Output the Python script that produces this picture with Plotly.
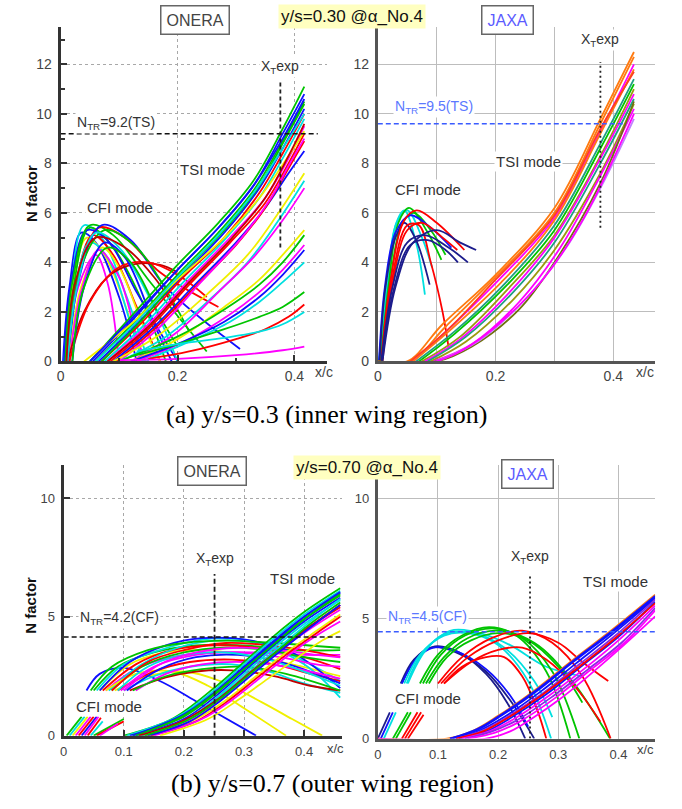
import plotly.graph_objects as go

W, H = 682, 809

# ---------------- colours (style) ----------------
COL = {
    "R": "#ff0000", "G": "#00c400", "B": "#1010ff", "M": "#ff00ff", "C": "#00e0e0",
    "Y": "#f0f000", "D": "#c00000", "N": "#1c1c8c", "O": "#ff7a10", "T": "#1f9f80",
    "L": "#9a9a10", "V": "#c080ff", "P": "#8a2be2", "K": "#707010", "E": "#ff4020",
}

# ================= DATA =================
# ---- (a) y/s=0.30, ONERA ----
A1_CFI = [
    [(0.004, 0), (0.015, 3.0), (0.035, 5.2), (0.06, 4.8), (0.10, 2.6), (0.13, 0)],
    [(0.006, 0), (0.018, 3.0), (0.04, 5.5), (0.07, 5.0), (0.11, 2.8), (0.15, 0)],
    [(0.008, 0), (0.02, 3.0), (0.045, 5.0), (0.075, 4.3), (0.12, 1.6), (0.14, 0)],
    [(0.01, 0), (0.022, 3.0), (0.05, 5.4), (0.09, 4.6), (0.14, 2.4), (0.18, 0)],
    [(0.01, 0), (0.025, 3.0), (0.055, 5.1), (0.09, 4.3), (0.13, 2.2), (0.17, 0)],
    [(0.012, 0), (0.03, 3.0), (0.06, 4.3), (0.08, 3.2), (0.1, 0)],
    [(0.006, 0), (0.02, 3.5), (0.045, 5.3), (0.08, 4.9), (0.13, 2.8), (0.2, 0)],
    [(0.008, 0), (0.02, 3.2), (0.05, 5.5), (0.09, 5.1), (0.15, 3.3), (0.25, 0.4)],
    [(0.01, 0), (0.025, 3.0), (0.05, 4.8), (0.08, 4.2), (0.12, 1.5), (0.14, 0)],
    [(0.012, 0), (0.03, 3.4), (0.065, 5.4), (0.11, 5.0), (0.17, 3.6), (0.27, 2.2)],
    [(0.015, 0), (0.03, 3.2), (0.07, 5.5), (0.12, 4.9), (0.18, 3.0), (0.307, 0.5)],
    [(0.015, 0), (0.035, 3.0), (0.07, 4.6), (0.1, 3.8), (0.14, 1.5), (0.17, 0)],
    [(0.015, 0), (0.035, 2.8), (0.065, 4.5), (0.1, 3.4), (0.13, 1.0), (0.145, 0)],
    [(0.01, 0), (0.03, 3.5), (0.075, 5.3), (0.13, 4.6), (0.19, 2.5), (0.22, 1.2)],
    [(0.012, 0), (0.04, 2.0), (0.08, 3.4), (0.12, 3.9), (0.17, 3.9), (0.2, 3.6)],
    [(0.015, 0), (0.05, 2.4), (0.1, 3.8), (0.15, 4.0), (0.2, 3.5), (0.25, 2.6)],
    [(0.012, 0), (0.028, 3.0), (0.06, 5.2), (0.1, 4.6), (0.16, 2.2), (0.2, 0)],
    [(0.01, 0), (0.025, 3.2), (0.06, 5.0), (0.11, 4.6), (0.16, 3.4), (0.2, 2.0)],
    [(0.02, 0), (0.04, 3.0), (0.075, 4.8), (0.11, 4.2), (0.16, 1.5), (0.19, 0)],
    [(0.02, 0), (0.04, 3.0), (0.08, 4.6), (0.12, 4.0), (0.17, 1.8), (0.2, 0.6)],
]
A1_CFI_C = "BCYGRMBGCRBYMGDRCDBG"

A1_TSI = [
    [(0.05, 0), (0.12, 1.8), (0.2, 3.9), (0.27, 5.6), (0.33, 7.3), (0.38, 9.4), (0.417, 11.1)],
    [(0.055, 0), (0.12, 1.6), (0.2, 3.7), (0.27, 5.4), (0.33, 7.1), (0.38, 9.2), (0.417, 10.8)],
    [(0.06, 0), (0.13, 1.7), (0.2, 3.5), (0.27, 5.2), (0.33, 6.9), (0.38, 8.9), (0.417, 10.5)],
    [(0.065, 0), (0.13, 1.5), (0.21, 3.5), (0.28, 5.2), (0.34, 7.0), (0.38, 8.6), (0.417, 10.2)],
    [(0.07, 0), (0.14, 1.6), (0.21, 3.4), (0.28, 5.0), (0.34, 6.8), (0.38, 8.4), (0.417, 10.0)],
    [(0.075, 0), (0.14, 1.4), (0.21, 3.2), (0.28, 4.9), (0.34, 6.6), (0.38, 8.2), (0.417, 9.8)],
    [(0.08, 0), (0.15, 1.5), (0.22, 3.3), (0.29, 5.0), (0.35, 6.6), (0.39, 8.2), (0.417, 9.5)],
    [(0.085, 0), (0.15, 1.3), (0.22, 3.1), (0.29, 4.8), (0.35, 6.4), (0.39, 8.0), (0.417, 9.2)],
    [(0.07, 0), (0.14, 1.7), (0.21, 3.6), (0.28, 5.3), (0.34, 7.1), (0.38, 8.8), (0.417, 10.4)],
    [(0.04, 0), (0.12, 1.5), (0.2, 3.3), (0.28, 5.0), (0.34, 6.6), (0.39, 8.3), (0.417, 9.3)],
    [(0.09, 0), (0.16, 1.4), (0.23, 3.1), (0.3, 4.8), (0.35, 6.2), (0.39, 7.6), (0.417, 8.5)],
    [(0.095, 0), (0.16, 1.3), (0.23, 3.0), (0.3, 4.7), (0.35, 6.2), (0.39, 7.8), (0.417, 8.9)],
    [(0.1, 0), (0.17, 1.4), (0.24, 3.2), (0.31, 5.0), (0.36, 6.6), (0.39, 7.9), (0.417, 9.0)],
    [(0.06, 0), (0.13, 1.6), (0.2, 3.4), (0.27, 5.1), (0.33, 6.8), (0.38, 8.6), (0.417, 10.0)],
    [(0.08, 0), (0.15, 1.4), (0.22, 3.2), (0.29, 4.9), (0.35, 6.6), (0.39, 8.3), (0.417, 9.6)],
    [(0.05, 0), (0.12, 1.7), (0.2, 3.7), (0.27, 5.4), (0.33, 7.1), (0.38, 9.0), (0.417, 10.6)],
    [(0.1, 0), (0.18, 1.0), (0.26, 2.6), (0.32, 4.0), (0.37, 5.6), (0.417, 7.3)],
    [(0.09, 0), (0.17, 1.1), (0.25, 2.7), (0.32, 4.3), (0.37, 5.9), (0.417, 7.6)],
    [(0.12, 0), (0.2, 1.2), (0.27, 2.8), (0.33, 4.2), (0.38, 5.7), (0.417, 7.0)],
    [(0.12, 0), (0.2, 0.9), (0.28, 2.2), (0.34, 3.3), (0.38, 4.3), (0.417, 5.3)],
    [(0.1, 0), (0.2, 1.0), (0.28, 2.1), (0.34, 3.1), (0.38, 4.0), (0.417, 5.1)],
    [(0.13, 0), (0.22, 0.9), (0.29, 1.9), (0.34, 2.8), (0.38, 3.7), (0.417, 4.7)],
    [(0.12, 0), (0.21, 0.8), (0.28, 1.6), (0.34, 2.6), (0.38, 3.5), (0.417, 4.5)],
    [(0.14, 0), (0.22, 0.8), (0.29, 1.6), (0.34, 2.4), (0.38, 3.2), (0.417, 4.0)],
    [(0.12, 0.2), (0.2, 0.7), (0.28, 1.3), (0.34, 1.8), (0.38, 2.2), (0.417, 2.8)],
    [(0.15, 0.1), (0.22, 0.4), (0.3, 0.9), (0.35, 1.3), (0.39, 1.8), (0.417, 2.3)],
    [(0.13, 0.4), (0.2, 0.7), (0.28, 0.95), (0.34, 1.2), (0.38, 1.5), (0.417, 2.0)],
    [(0.1, 0.05), (0.2, 0.1), (0.3, 0.25), (0.38, 0.45), (0.417, 0.6)],
]
A1_TSI_C = "GBGBRCMRGYBRMCDBCYMYGMBCGRCM"

# ---- (a) y/s=0.30, JAXA ----
A2_CFI = [
    [(0.002, 0), (0.015, 3.0), (0.03, 5.5), (0.045, 6.1), (0.065, 4.8), (0.08, 2.7)],
    [(0.003, 0), (0.016, 3.0), (0.032, 5.6), (0.05, 6.1), (0.075, 5.0), (0.092, 3.8)],
    [(0.005, 0), (0.018, 3.0), (0.035, 5.6), (0.053, 6.2), (0.085, 5.2), (0.108, 4.1)],
    [(0.006, 0), (0.02, 3.0), (0.04, 5.5), (0.06, 6.0), (0.09, 5.3), (0.115, 4.3)],
    [(0.002, 0), (0.012, 3.0), (0.03, 5.2), (0.055, 5.9), (0.09, 5.4), (0.125, 4.6)],
    [(0.003, 0), (0.013, 3.0), (0.03, 5.0), (0.045, 5.6), (0.065, 4.9), (0.088, 3.1)],
    [(0.006, 0), (0.02, 3.0), (0.045, 5.7), (0.066, 6.1), (0.1, 5.6), (0.147, 4.5)],
    [(0.007, 0), (0.022, 3.0), (0.05, 5.5), (0.07, 5.5), (0.09, 4.0), (0.11, 2.0), (0.12, 0.6)],
    [(0.008, 0), (0.024, 3.0), (0.05, 5.3), (0.075, 5.6), (0.11, 5.0), (0.135, 4.5)],
    [(0.008, 0), (0.03, 3.0), (0.06, 4.8), (0.1, 5.3), (0.14, 4.8), (0.167, 4.5)],
    [(0.006, 0), (0.025, 3.0), (0.05, 4.8), (0.08, 5.1), (0.12, 4.6), (0.153, 4.0)],
    [(0.007, 0), (0.028, 3.0), (0.055, 4.7), (0.085, 4.9), (0.115, 4.5), (0.136, 4.0)],
]
A2_CFI_C = "CCGGBNRRRNNN"

A2_TSI = [
    [(0.0, 0), (0.05, 0), (0.11, 1.5), (0.2, 3.5), (0.3, 6.2), (0.378, 9.8), (0.435, 12.5)],
    [(0.0, 0), (0.055, 0), (0.115, 1.4), (0.2, 3.4), (0.3, 6.0), (0.378, 9.6), (0.435, 12.3)],
    [(0.06, 0), (0.12, 1.3), (0.21, 3.4), (0.3, 5.8), (0.378, 9.3), (0.435, 12.0)],
    [(0.06, 0), (0.12, 1.2), (0.21, 3.2), (0.3, 5.7), (0.378, 9.2), (0.435, 11.8)],
    [(0.065, 0), (0.13, 1.2), (0.21, 3.0), (0.3, 5.5), (0.378, 8.8), (0.435, 11.4)],
    [(0.07, 0), (0.13, 1.1), (0.22, 3.1), (0.3, 5.3), (0.378, 8.6), (0.435, 11.2)],
    [(0.075, 0), (0.14, 1.0), (0.22, 2.9), (0.3, 5.1), (0.378, 8.3), (0.435, 11.0)],
    [(0.08, 0), (0.14, 0.9), (0.22, 2.7), (0.3, 5.0), (0.378, 8.2), (0.435, 10.8)],
    [(0.085, 0), (0.15, 1.0), (0.23, 2.8), (0.3, 4.8), (0.378, 8.0), (0.435, 10.6)],
    [(0.09, 0), (0.15, 0.8), (0.23, 2.5), (0.3, 4.5), (0.378, 7.6), (0.435, 10.4)],
    [(0.095, 0), (0.16, 0.7), (0.24, 2.4), (0.31, 4.6), (0.378, 7.5), (0.435, 10.2)],
    [(0.0, 0), (0.1, 0), (0.16, 0.6), (0.24, 2.1), (0.3, 4.0), (0.378, 7.2), (0.435, 10.5)],
    [(0.1, 0), (0.17, 0.8), (0.25, 2.5), (0.32, 4.6), (0.378, 7.0), (0.435, 9.8)],
    [(0.055, 0), (0.12, 1.3), (0.2, 3.3), (0.3, 5.9), (0.378, 9.4), (0.435, 11.7)],
    [(0.1, 0), (0.14, 0.4), (0.2, 1.4), (0.28, 3.3), (0.35, 5.8), (0.435, 10.0)],
]
A2_TSI_C = "OOMOTGLMTLMKVEM"

# ---- (b) y/s=0.70, ONERA ----
B1_CFI_LOW = [
    [(0.005, 0), (0.03, 0.8)], [(0.01, 0), (0.035, 0.8)], [(0.015, 0), (0.04, 0.8)],
    [(0.02, 0), (0.045, 0.8)], [(0.025, 0), (0.05, 0.8)], [(0.03, 0), (0.055, 0.8)],
    [(0.035, 0), (0.058, 0.8)], [(0.04, 0), (0.062, 0.75)], [(0.045, 0), (0.065, 0.6)],
    [(0.05, 0), (0.1, 0.7)], [(0.055, 0), (0.1, 0.6)], [(0.06, 0), (0.09, 0.5)],
]
B1_CFI_LOW_C = "GCYMRBMRCGRM"

B1_CFI = [
    [(0.038, 1.9), (0.06, 2.6), (0.1, 2.85), (0.16, 2.3), (0.22, 1.45), (0.32, 0)],
    [(0.05, 1.9), (0.09, 2.9), (0.15, 3.5), (0.22, 3.8), (0.3, 3.8), (0.38, 3.6), (0.46, 3.6)],
    [(0.055, 1.9), (0.1, 3.0), (0.16, 3.6), (0.22, 4.0), (0.28, 4.1), (0.36, 3.6), (0.46, 2.3)],
    [(0.06, 1.9), (0.11, 3.0), (0.17, 3.5), (0.23, 3.6), (0.3, 3.4), (0.38, 3.0), (0.46, 2.5)],
    [(0.065, 1.9), (0.12, 3.0), (0.18, 3.6), (0.25, 3.8), (0.32, 3.7), (0.4, 3.3), (0.46, 2.8)],
    [(0.07, 1.9), (0.12, 2.8), (0.18, 3.3), (0.25, 3.5), (0.32, 3.5), (0.4, 3.4), (0.46, 3.4)],
    [(0.06, 1.9), (0.11, 3.1), (0.17, 3.8), (0.23, 4.1), (0.3, 4.05), (0.38, 3.5), (0.46, 2.0)],
    [(0.075, 1.9), (0.13, 3.0), (0.19, 3.7), (0.25, 4.0), (0.32, 3.9), (0.4, 3.0), (0.46, 1.6)],
    [(0.08, 1.9), (0.13, 2.9), (0.2, 3.5), (0.27, 3.7), (0.34, 3.6), (0.4, 3.3), (0.46, 3.1)],
    [(0.085, 1.9), (0.14, 2.5), (0.2, 2.7), (0.26, 2.3), (0.33, 1.4), (0.38, 0.7), (0.43, 0)],
    [(0.07, 1.9), (0.12, 2.6), (0.18, 2.7), (0.24, 2.1), (0.3, 1.15), (0.37, 0)],
    [(0.09, 1.9), (0.15, 2.7), (0.21, 3.1), (0.28, 3.2), (0.35, 3.0), (0.41, 2.6), (0.46, 2.3)],
    [(0.095, 1.9), (0.15, 2.9), (0.22, 3.4), (0.29, 3.5), (0.36, 3.3), (0.42, 3.0), (0.46, 2.9)],
    [(0.1, 1.9), (0.15, 2.5), (0.21, 2.9), (0.28, 3.0), (0.34, 2.7), (0.4, 2.2), (0.46, 1.8)],
    [(0.045, 1.9), (0.08, 2.9), (0.14, 3.6), (0.2, 3.9), (0.27, 4.0), (0.35, 3.9), (0.46, 3.7)],
    [(0.105, 1.9), (0.16, 2.8), (0.22, 3.3), (0.29, 3.4), (0.36, 3.1), (0.42, 2.6), (0.46, 2.2)],
    [(0.11, 1.9), (0.17, 2.45), (0.22, 2.7), (0.28, 2.75), (0.35, 2.5), (0.41, 2.1), (0.46, 1.9)],
    [(0.12, 1.9), (0.17, 2.6), (0.23, 3.0), (0.3, 3.1), (0.37, 2.9), (0.46, 2.4)],
    [(0.115, 1.9), (0.17, 2.5), (0.23, 2.8), (0.3, 2.9), (0.37, 2.6), (0.46, 1.9)],
    [(0.08, 1.9), (0.14, 3.1), (0.2, 3.6), (0.27, 3.9), (0.34, 3.8), (0.4, 3.6), (0.46, 3.3)],
    [(0.09, 1.9), (0.14, 2.9), (0.2, 3.4), (0.27, 3.5), (0.34, 3.2), (0.41, 2.6), (0.46, 2.1)],
    [(0.1, 1.9), (0.16, 3.0), (0.22, 3.5), (0.29, 3.7), (0.36, 3.6), (0.42, 3.4), (0.46, 3.3)],
]
B1_CFI_C = "BGCYRMBCGYYRMCGBDMGRCM"

B1_TSI = [
    [(0.10, 0), (0.18, 0.7), (0.25, 2.0), (0.3, 3.1), (0.35, 4.2), (0.4, 5.2), (0.46, 6.2)],
    [(0.105, 0), (0.19, 0.8), (0.25, 1.9), (0.3, 3.0), (0.35, 4.1), (0.4, 5.1), (0.46, 6.1)],
    [(0.11, 0), (0.19, 0.7), (0.25, 1.8), (0.3, 2.9), (0.35, 4.0), (0.4, 5.0), (0.46, 6.0)],
    [(0.115, 0), (0.2, 0.8), (0.25, 1.7), (0.3, 2.8), (0.35, 3.9), (0.4, 4.9), (0.46, 5.9)],
    [(0.12, 0), (0.2, 0.7), (0.25, 1.6), (0.3, 2.7), (0.35, 3.8), (0.4, 4.8), (0.46, 5.8)],
    [(0.125, 0), (0.2, 0.6), (0.25, 1.5), (0.3, 2.6), (0.35, 3.7), (0.4, 4.7), (0.46, 5.7)],
    [(0.13, 0), (0.21, 0.7), (0.26, 1.6), (0.31, 2.7), (0.36, 3.7), (0.41, 4.6), (0.46, 5.4)],
    [(0.135, 0), (0.21, 0.6), (0.26, 1.5), (0.31, 2.6), (0.36, 3.6), (0.41, 4.5), (0.46, 5.3)],
    [(0.14, 0), (0.22, 0.7), (0.27, 1.5), (0.32, 2.5), (0.37, 3.5), (0.42, 4.4), (0.46, 5.1)],
    [(0.145, 0), (0.22, 0.6), (0.27, 1.4), (0.32, 2.4), (0.37, 3.4), (0.42, 4.3), (0.46, 5.0)],
    [(0.15, 0), (0.23, 0.7), (0.28, 1.5), (0.33, 2.5), (0.38, 3.5), (0.42, 4.2), (0.46, 4.8)],
    [(0.16, 0), (0.24, 0.7), (0.29, 1.5), (0.34, 2.4), (0.39, 3.3), (0.43, 4.0), (0.46, 4.4)],
    [(0.115, 0), (0.2, 0.9), (0.25, 1.8), (0.3, 2.85), (0.35, 3.95), (0.4, 5.0), (0.46, 6.05)],
    [(0.12, 0), (0.2, 0.85), (0.25, 1.75), (0.3, 2.8), (0.35, 3.85), (0.4, 4.9), (0.46, 5.95)],
    [(0.13, 0), (0.21, 0.75), (0.26, 1.65), (0.31, 2.7), (0.36, 3.75), (0.41, 4.8), (0.46, 5.75)],
    [(0.125, 0), (0.2, 0.65), (0.26, 1.6), (0.31, 2.65), (0.36, 3.65), (0.41, 4.6), (0.46, 5.5)],
    [(0.14, 0), (0.21, 0.6), (0.26, 1.45), (0.31, 2.5), (0.36, 3.55), (0.41, 4.55), (0.46, 5.5)],
    [(0.135, 0), (0.21, 0.7), (0.26, 1.55), (0.31, 2.6), (0.36, 3.65), (0.41, 4.7), (0.46, 5.6)],
]
B1_TSI_C = "GCBGBCRMYRMYBGCDBG"

# ---- (b) y/s=0.70, JAXA ----
B2_CFI_LOW = [
    [(0.0, 0), (0.02, 1.1)], [(0.005, 0), (0.025, 1.1)], [(0.01, 0), (0.03, 1.1)],
    [(0.025, 0), (0.05, 1.1)], [(0.03, 0), (0.055, 1.1)], [(0.04, 0), (0.066, 1.1)],
    [(0.045, 0), (0.072, 1.1)], [(0.05, 0), (0.076, 1.0)],
]
B2_CFI_LOW_C = "NBCGGRRR"

B2_CFI = [
    [(0.038, 2.3), (0.06, 3.3), (0.09, 3.8), (0.13, 3.6), (0.18, 2.8), (0.22, 1.6), (0.26, 0)],
    [(0.04, 2.3), (0.065, 3.4), (0.095, 3.85), (0.135, 3.6), (0.18, 2.7), (0.215, 1.5), (0.245, 0)],
    [(0.04, 2.3), (0.063, 3.3), (0.092, 3.8), (0.13, 3.65), (0.18, 2.9), (0.22, 1.8), (0.25, 0.5)],
    [(0.044, 2.3), (0.07, 3.5), (0.11, 4.3), (0.15, 4.4), (0.2, 3.9), (0.25, 2.4), (0.288, 0)],
    [(0.048, 2.3), (0.075, 3.6), (0.115, 4.4), (0.16, 4.4), (0.21, 3.8), (0.26, 2.4), (0.29, 0.9)],
    [(0.05, 2.3), (0.08, 3.7), (0.12, 4.5), (0.17, 4.4), (0.22, 3.9), (0.28, 3.0), (0.34, 2.6)],
    [(0.07, 2.3), (0.1, 3.5), (0.14, 4.3), (0.185, 4.65), (0.23, 4.3), (0.28, 2.8), (0.32, 0)],
    [(0.075, 2.3), (0.105, 3.5), (0.145, 4.3), (0.19, 4.6), (0.24, 4.2), (0.29, 2.8), (0.335, 0)],
    [(0.08, 2.3), (0.11, 3.4), (0.15, 4.2), (0.2, 4.5), (0.26, 4.0), (0.32, 2.5), (0.386, 0)],
    [(0.085, 2.3), (0.115, 3.4), (0.155, 4.1), (0.2, 4.4), (0.25, 4.1), (0.3, 3.0), (0.34, 1.5)],
    [(0.1, 2.3), (0.14, 3.4), (0.19, 4.2), (0.24, 4.5), (0.29, 4.0), (0.34, 2.6), (0.387, 0)],
    [(0.105, 2.3), (0.15, 3.4), (0.2, 4.1), (0.25, 4.4), (0.3, 4.0), (0.34, 3.2), (0.383, 2.4)],
    [(0.11, 2.3), (0.155, 3.2), (0.2, 3.7), (0.24, 3.8), (0.28, 3.3), (0.33, 2.1), (0.37, 0.7)],
    [(0.11, 2.3), (0.14, 3.0), (0.18, 3.4), (0.21, 3.4), (0.24, 2.6), (0.265, 1.2), (0.28, 0)],
]
B2_CFI_C = "NNBCCCGGGGRRRR"

B2_TSI = [
    [(0.0, 0), (0.115, 0), (0.16, 0.35), (0.2, 0.95), (0.26, 2.0), (0.32, 3.2), (0.39, 4.55), (0.461, 6.0)],
    [(0.12, 0), (0.165, 0.35), (0.205, 0.95), (0.265, 2.0), (0.325, 3.2), (0.39, 4.45), (0.461, 5.9)],
    [(0.125, 0), (0.17, 0.35), (0.21, 0.9), (0.27, 1.95), (0.33, 3.15), (0.39, 4.35), (0.461, 5.85)],
    [(0.13, 0), (0.175, 0.35), (0.215, 0.9), (0.275, 1.9), (0.335, 3.1), (0.395, 4.3), (0.461, 5.8)],
    [(0.135, 0), (0.18, 0.3), (0.22, 0.85), (0.28, 1.85), (0.34, 3.05), (0.4, 4.25), (0.461, 5.7)],
    [(0.13, 0), (0.175, 0.3), (0.215, 0.85), (0.275, 1.85), (0.335, 3.0), (0.395, 4.2), (0.461, 5.65)],
    [(0.14, 0), (0.185, 0.3), (0.225, 0.8), (0.285, 1.8), (0.345, 2.95), (0.4, 4.1), (0.461, 5.55)],
    [(0.145, 0), (0.19, 0.3), (0.23, 0.75), (0.29, 1.75), (0.35, 2.9), (0.405, 4.0), (0.461, 5.45)],
    [(0.15, 0), (0.195, 0.25), (0.235, 0.7), (0.295, 1.7), (0.35, 2.8), (0.41, 4.0), (0.461, 5.35)],
    [(0.0, 0), (0.18, 0), (0.22, 0.3), (0.26, 0.9), (0.3, 1.6), (0.34, 2.4), (0.4, 3.7), (0.461, 5.1)],
    [(0.12, 0), (0.165, 0.4), (0.205, 1.0), (0.265, 2.05), (0.325, 3.25), (0.39, 4.5), (0.461, 5.95)],
]
B2_TSI_C = "OBBPBRMPMMB"

# transition criteria (N_TR) and experimental transition location X_T
NTR = {"A1": 9.2, "A2": 9.6, "B1": 4.15, "B2": 4.46}
NTR_LABEL = {"A1": "9.2(TS)", "A2": "9.5(TS)", "B1": "4.2(CF)", "B2": "4.5(CF)"}
XT = {"A1": 0.376, "A2": 0.378, "B1": 0.251, "B2": 0.253}
XT_SPAN = {"A1": (4.6, 11.3), "A2": (5.4, 12.1), "B1": (0.0, 6.8), "B2": (0.0, 6.8)}

# ================= FIGURE =================
fig = go.Figure()
AX = {"A1": ("x", "y"), "A2": ("x2", "y2"), "B1": ("x3", "y3"), "B2": ("x4", "y4")}


def add_group(curves, codes, panel, width=1.8):
    xa, ya = AX[panel]
    for pts, c in zip(curves, codes):
        fig.add_trace(go.Scatter(
            x=[p[0] for p in pts], y=[p[1] for p in pts], mode="lines",
            line=dict(color=COL[c], width=width, shape="spline", smoothing=1.0),
            xaxis=xa, yaxis=ya, showlegend=False, hoverinfo="skip"))


add_group(A1_CFI, A1_CFI_C, "A1")
add_group(A1_TSI, A1_TSI_C, "A1")
add_group(A2_CFI, A2_CFI_C, "A2")
add_group(A2_TSI, A2_TSI_C, "A2")
add_group(B1_CFI_LOW, B1_CFI_LOW_C, "B1")
add_group(B1_CFI, B1_CFI_C, "B1")
add_group(B1_TSI, B1_TSI_C, "B1")
add_group(B2_CFI_LOW, B2_CFI_LOW_C, "B2")
add_group(B2_CFI, B2_CFI_C, "B2")
add_group(B2_TSI, B2_TSI_C, "B2")

XMAX = {"A1": 0.44, "A2": 0.42, "B1": 0.463, "B2": 0.461}
NTR_COL = {"A1": "#111111", "A2": "#3a5cff", "B1": "#111111", "B2": "#3a5cff"}
XT_DASH = {"A1": "4px,3px", "A2": "2px,3px", "B1": "5px,3px", "B2": "2px,3px"}
for p in ["A1", "A2", "B1", "B2"]:
    xa, ya = AX[p]
    fig.add_trace(go.Scatter(x=[0, XMAX[p]], y=[NTR[p], NTR[p]], mode="lines",
                             line=dict(color=NTR_COL[p], width=1.5, dash="5px,3px"),
                             xaxis=xa, yaxis=ya, showlegend=False, hoverinfo="skip"))
    fig.add_trace(go.Scatter(x=[XT[p], XT[p]], y=list(XT_SPAN[p]), mode="lines",
                             line=dict(color="#222222", width=1.8, dash=XT_DASH[p]),
                             xaxis=xa, yaxis=ya, showlegend=False, hoverinfo="skip"))


def xd(a, b):
    return [a / W, b / W]


def yd(top, bottom):
    return [1 - bottom / H, 1 - top / H]


SANS = "Liberation Sans, Arial, sans-serif"
TF = dict(family=SANS, size=14, color="#444")
TFB = dict(family=SANS, size=13, color="#444")

onera_ax = dict(showline=True, linecolor="#333", linewidth=3, ticks="inside", ticklen=6,
                tickwidth=2, tickcolor="#333", showgrid=True, gridcolor="#a8a8a8",
                griddash="dot", gridwidth=1, zeroline=False)
jaxa_ax = dict(showline=True, linecolor="#555", linewidth=3, ticks="", showgrid=True,
               gridcolor="#bdbdbd", gridwidth=1, zeroline=False)

fig.update_layout(
    width=W, height=H, margin=dict(l=0, r=0, t=0, b=0),
    paper_bgcolor="white", plot_bgcolor="white", showlegend=False,
    xaxis=dict(domain=xd(57, 325), range=[0, 0.456], dtick=0.2, tick0=0, anchor="y",
               tickfont=TF, ticklabelstandoff=0,
               minor=dict(dtick=0.1, ticks="inside", ticklen=3, tickcolor="#333"), **onera_ax),
    yaxis=dict(domain=yd(27.5, 365), range=[0, 13.5], dtick=2, tick0=0, anchor="x",
               tickfont=TF, ticklabelstandoff=3,
               minor=dict(dtick=1, ticks="inside", ticklen=4, tickcolor="#333"), **onera_ax),
    xaxis2=dict(domain=xd(376, 655), range=[0, 0.471], dtick=0.2, tick0=0, anchor="y2",
                tickfont=TF, ticklabelstandoff=0,
                minor=dict(dtick=0.1, showgrid=True, gridcolor="#bdbdbd", gridwidth=1), **jaxa_ax),
    yaxis2=dict(domain=yd(27.5, 365), range=[0, 13.5], dtick=2, tick0=0, anchor="x2",
                tickfont=TF, ticklabelstandoff=3, **jaxa_ax),
    xaxis3=dict(domain=xd(60, 340), range=[0, 0.463], dtick=0.1, tick0=0, anchor="y3",
                tickfont=TFB, ticklabelstandoff=2, **onera_ax),
    yaxis3=dict(domain=yd(470, 743), range=[0, 11.375], dtick=5, tick0=0, anchor="x3",
                tickfont=TFB, ticklabelstandoff=3, **onera_ax),
    xaxis4=dict(domain=xd(376, 655), range=[0, 0.461], dtick=0.1, tick0=0, anchor="y4",
                tickfont=TFB, ticklabelstandoff=2, **jaxa_ax),
    yaxis4=dict(domain=yd(470, 746), range=[0, 11.4], dtick=5, tick0=0, anchor="x4",
                tickfont=TFB, ticklabelstandoff=3, **jaxa_ax),
)

anns = []


def ann(text, x, y, size=14, color="#333", xanchor="center", bg=None, border=None,
        family=SANS, angle=0, pad=1, bw=1.5):
    d = dict(text=text, x=x / W, y=1 - y / H, xref="paper", yref="paper", showarrow=False,
             xanchor=xanchor, yanchor="middle", font=dict(family=family, size=size, color=color),
             textangle=angle, borderpad=pad)
    if bg:
        d["bgcolor"] = bg
    if border:
        d["bordercolor"] = border
        d["borderwidth"] = bw
    anns.append(d)


# panel tags
ann("ONERA", 192.5, 20, size=16, color="#444", bg="white", border="#666", pad=5)
ann("JAXA", 506, 20, size=16, color="#5b5bff", bg="white", border="#666", pad=5)
ann("ONERA", 209, 476, size=16, color="#444", bg="white", border="#666", pad=5)
ann("JAXA", 527, 479, size=16, color="#5b5bff", bg="white", border="#666", pad=5)
ann("y/s=0.30 @α_No.4", 350, 17, size=17, color="#111", bg="#ffffc0", pad=2)
ann("y/s=0.70 @α_No.4", 365, 472, size=17, color="#111", bg="#ffffc0", pad=2)

# y axis titles
ann("<b>N factor</b>", 27, 195, size=15, color="#111", angle=-90)
ann("<b>N factor</b>", 27, 611, size=15, color="#111", angle=-90)

# x/c labels
ann("x/c", 322, 376, size=14, color="#444")
ann("x/c", 645, 376, size=14, color="#444")
ann("x/c", 333, 756, size=13, color="#444")
ann("x/c", 645, 757, size=13, color="#444")

# transition criteria labels
ann("N<sub>TR</sub>=" + NTR_LABEL["A1"], 71, 124, size=14, color="#333", xanchor="left", bg="white")
ann("N<sub>TR</sub>=" + NTR_LABEL["A2"], 391, 108, size=14, color="#5b78ff", xanchor="left", bg="white")
ann("N<sub>TR</sub>=" + NTR_LABEL["B1"], 74, 624, size=14, color="#333", xanchor="left", bg="white")
ann("N<sub>TR</sub>=" + NTR_LABEL["B2"], 384, 623, size=14, color="#5b78ff", xanchor="left", bg="white")

# X_T exp labels
ann("X<sub>T</sub>exp", 278, 68, size=14, color="#333", bg="white")
ann("X<sub>T</sub>exp", 600, 40, size=14, color="#333", bg="white")
ann("X<sub>T</sub>exp", 212, 565, size=14, color="#333", bg="white")
ann("X<sub>T</sub>exp", 529, 563, size=14, color="#333", bg="white")

# mode labels
ann("TSI mode", 210, 171, size=15, bg="white")
ann("CFI mode", 117, 210, size=15, bg="white")
ann("TSI mode", 528, 163, size=15, bg="white")
ann("CFI mode", 427, 191, size=15, bg="white")
ann("TSI mode", 300, 584, size=15, bg="white")
ann("CFI mode", 106, 714, size=15, bg="white")
ann("TSI mode", 615, 587, size=15, bg="white")
ann("CFI mode", 426, 705, size=15, bg="white")

# captions
SERIF = "Liberation Serif, Times New Roman, serif"
ann("(a) y/s=0.3 (inner wing region)", 325, 419, size=26, color="#000", family=SERIF)
ann("(b) y/s=0.7 (outer wing region)", 330, 791, size=26, color="#000", family=SERIF)

fig.update_layout(annotations=anns)
fig.write_html("out.html")
